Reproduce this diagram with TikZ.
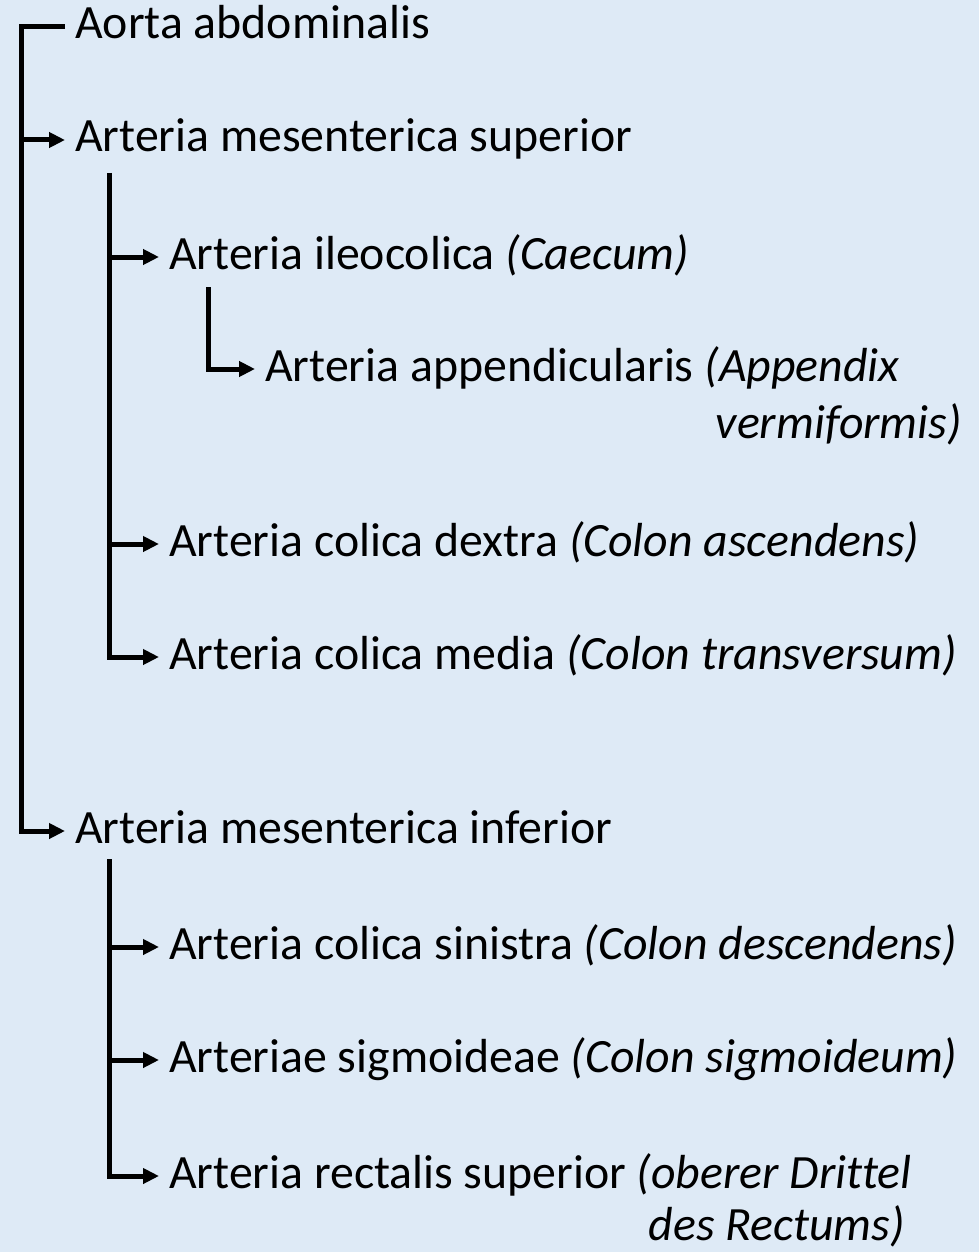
\documentclass[tikz,border=0pt]{standalone}
\usepackage{fontspec}
\setmainfont[Ligatures=NoCommon]{Carlito}
\usetikzlibrary{arrows.meta}
\definecolor{bgblue}{HTML}{DEEAF6}
\tikzset{
	bar/.style={line width=5pt},
	arr/.style={bar, -{Triangle[length=16pt,width=15pt]}},
	txt/.style={inner sep=0pt, font=\fontsize{47.8}{57}\selectfont},
	lbl/.style={txt, anchor=west, inner xsep=10pt, text height=34pt, text depth=10pt},
	lbltwo/.style={txt, anchor=base east},
}
\begin{document}
\begin{tikzpicture}[x=1pt, y=-1pt]
	\fill[bgblue] (0,0) rectangle (979,1252);
	\useasboundingbox (0,0) rectangle (979,1252);
	\path 
	(21,831) coordinate (T)
	(109,173) coordinate (S)
	(208,287) coordinate (I)
	(109,859) coordinate (N)
		;
	\node[lbl] (aorta) at (65,27) {Aorta abdominalis};
	\node[lbl] (sup) at (65,140) {Arteria mesenterica superior};
	\node[lbl] (ileo) at (159,257) {Arteria ileocolica \textit{(Caecum)}};
	\node[lbl] (app) at (255,369) {Arteria appendicularis \textit{(Appendix}};
	\node[lbltwo] (app2) at (962,438) {\textit{vermiformis)}};
	\node[lbl] (dex) at (159,544) {Arteria colica dextra \textit{(Colon ascendens)}};
	\node[lbl] (med) at (159,657) {Arteria colica media \textit{(Colon transversum)}};
	\node[lbl] (inf) at (65,831) {Arteria mesenterica inferior};
	\node[lbl] (sin) at (159,947) {Arteria colica sinistra \textit{(Colon descendens)}};
	\node[lbl] (sig) at (159,1060) {Arteriae sigmoideae \textit{(Colon sigmoideum)}};
	\node[lbl] (rec) at (159,1176) {Arteria rectalis superior \textit{(oberer Drittel}};
	\node[lbltwo] (rec2) at (905,1240) {\textit{des Rectums)}};
	% aorta
	\draw[arr] (aorta.west) -| (T) -- (inf.west);
	\draw[arr] (T |- sup.west) -- (sup.west);
	% mesenterica superior
	\draw[arr] (S) |- (med.west);
	\draw[arr] (S |- ileo.west) -- (ileo.west);
	\draw[arr] (S |- dex.west) -- (dex.west);
	\draw[arr] (I) |- (app.west);
	% mesenterica inferior
	\draw[arr] (N) |- (rec.west);
	\draw[arr] (N |- sin.west) -- (sin.west);
	\draw[arr] (N |- sig.west) -- (sig.west);
\end{tikzpicture}
\end{document}
